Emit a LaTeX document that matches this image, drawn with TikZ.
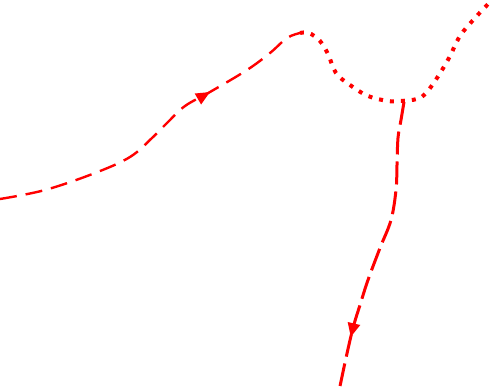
\documentclass[tikz,border=0pt]{standalone}
\usetikzlibrary{decorations.markings,arrows.meta}
\begin{document}
\begin{tikzpicture}[x=1pt,y=-1pt,
  curveA/.style={red,line width=2.4pt,dash pattern=on 17pt off 9pt},
  curveB/.style={red,line width=4pt,dash pattern=on 4pt off 7pt},
  curveC/.style={red,line width=3pt,dash pattern=on 23pt off 7pt},
  midarrow/.style={postaction={decorate},decoration={markings,
     mark=at position #1 with {\arrow{Triangle[length=14pt,width=12pt]}}}}]
\useasboundingbox (0,0) rectangle (491,391);
\coordinate (start) at (0,199);
\coordinate (peak) at (300,33);
\coordinate (fork) at (404,102);
\coordinate (topright) at (491,1);
\coordinate (bottom) at (339,391);
\draw[curveA,midarrow=0.69] plot[smooth,tension=0.6] coordinates
  {(start) (45,190) (95,173) (130,157) (152,138) (167,123) (185,106) (210,92) (247,70) (270,53) (287,38) (peak)};
\draw[curveB] plot[smooth,tension=0.6] coordinates
  {(peak) (309,33) (320,41) (328,54) (336,73) (350,85) (368,96) (388,101) (400,101) (417,99) (426,93) (437,78) (449,58) (460,36) (475,18) (topright)};
\draw[curveC,midarrow=0.815] plot[smooth,tension=0.6] coordinates
  {(fork) (401,120) (398,138) (397,165) (396,190) (391,220) (380,248) (368,280) (360,305) (353,328) (346,358) (bottom)};
\end{tikzpicture}
\end{document}
